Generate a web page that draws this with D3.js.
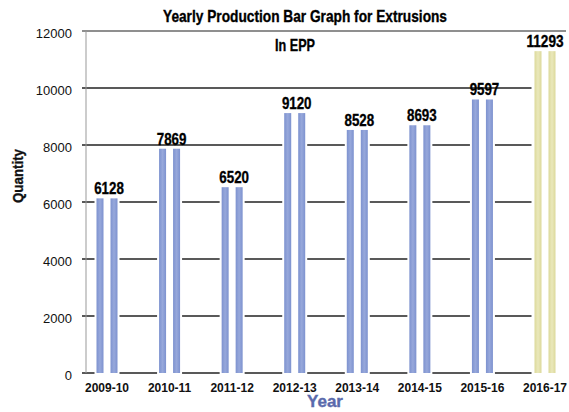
<!DOCTYPE html>
<html>
<head>
<meta charset="utf-8">
<script src="https://cdn.jsdelivr.net/npm/d3@7"></script>
<style>
  html, body { margin: 0; padding: 0; background: #fff; }
  svg { display: block; }
  .narrow { font-family: "Liberation Sans", Arial, sans-serif; font-weight: bold; stroke: currentColor; stroke-width: 0.35px; }
  .plain { font-family: "Liberation Sans", Arial, sans-serif; }
</style>
</head>
<body>
<svg id="chart" width="569" height="412"></svg>
<script>
// Yearly EPP extrusion production
const years = ["2009-10", "2010-11", "2011-12", "2012-13", "2013-14", "2014-15", "2015-16", "2016-17"];
const quantities = [6128, 7869, 6520, 9120, 8528, 8693, 9597, 11293];
const yTicks = [0, 2000, 4000, 6000, 8000, 10000, 12000];
const titleLines = ["Yearly Production Bar Graph for Extrusions", "In EPP"];

const svg = d3.select("#chart");

const x = d3.scalePoint().domain(years).range([107, 545]);
const y = d3.scaleLinear().domain([0, 12000]).range([373, 31]);

const barW = 7;      // width of each of the twin bars
const barGap = 7;    // gap between the twin bars
const axisX = 86;

// condensed bold text: squeeze glyphs to a fixed width per character
function condensed(sel, perChar) {
  sel.attr("textLength", function () { return this.textContent.length * perChar; })
     .attr("lengthAdjust", "spacingAndGlyphs");
}

// gradients for the twin bars
const defs = svg.append("defs");
function grad(id, edge, mid) {
  const g = defs.append("linearGradient").attr("id", id).attr("x1", 0).attr("x2", 1).attr("y1", 0).attr("y2", 0);
  g.append("stop").attr("offset", "0%").attr("stop-color", edge);
  g.append("stop").attr("offset", "50%").attr("stop-color", mid);
  g.append("stop").attr("offset", "100%").attr("stop-color", edge);
}
grad("blueBar", "#7d92cf", "#97a8db");
grad("yellowBar", "#dcd99a", "#eae8bb");

// horizontal grid lines (up to 10000), stopping before the last pair
const lastLeft = x(years[years.length - 1]) - barGap / 2 - barW - 3;
svg.append("g")
  .selectAll("line")
  .data(yTicks.filter(t => t < 12000))
  .join("line")
  .attr("x1", axisX - 4)
  .attr("x2", lastLeft)
  .attr("y1", d => y(d))
  .attr("y2", d => y(d))
  .attr("stroke", "#222")
  .attr("stroke-width", 1.4);

// top frame line at 12000
svg.append("line")
  .attr("x1", axisX - 4).attr("x2", 566)
  .attr("y1", y(12000)).attr("y2", y(12000))
  .attr("stroke", "#6a6a6a").attr("stroke-width", 1.4);

// vertical axis line
svg.append("line")
  .attr("x1", axisX).attr("x2", axisX)
  .attr("y1", y(12000)).attr("y2", y(0))
  .attr("stroke", "#999").attr("stroke-width", 1);

// y tick labels
svg.append("g")
  .selectAll("text")
  .data(yTicks)
  .join("text")
  .attr("class", "plain")
  .attr("x", 72)
  .attr("y", d => y(d) + 7)
  .attr("text-anchor", "end")
  .attr("font-size", 13)
  .attr("fill", "#111")
  .text(d => d);

// bar groups: white clearing behind each pair, then twin bars
const groups = svg.append("g")
  .selectAll("g")
  .data(years.map((yr, i) => ({ yr, v: quantities[i], last: i === years.length - 1 })))
  .join("g");

groups.append("rect")
  .attr("x", d => x(d.yr) - barGap / 2 - barW - 2)
  .attr("width", 2 * barW + barGap + 4)
  .attr("y", d => y(d.v))
  .attr("height", d => y(0) - y(d.v) + 2)
  .attr("fill", "#fff");

[-1, 1].forEach(side => {
  groups.append("rect")
    .attr("x", d => side < 0 ? x(d.yr) - barGap / 2 - barW : x(d.yr) + barGap / 2)
    .attr("width", barW)
    .attr("y", d => y(d.v))
    .attr("height", d => y(0) - y(d.v))
    .attr("fill", d => d.last ? "url(#yellowBar)" : "url(#blueBar)");
});

// value labels
groups.append("text")
  .attr("class", "narrow")
  .attr("x", d => x(d.yr) + (d.last ? 0 : 2))
  .attr("y", d => y(d.v) - 4)
  .attr("text-anchor", "middle")
  .attr("font-size", 16)
  .attr("fill", "#000")
  .style("color", "#000")
  .text(d => d.v)
  .call(condensed, 7.4);

// category labels
svg.append("g")
  .selectAll("text")
  .data(years)
  .join("text")
  .attr("class", "plain")
  .attr("font-weight", "bold")
  .attr("x", d => x(d))
  .attr("y", 392)
  .attr("text-anchor", "middle")
  .attr("font-size", 12)
  .attr("fill", "#111")
  .text(d => d);

// titles
svg.append("text")
  .attr("class", "narrow")
  .style("color", "#000")
  .attr("x", 305).attr("y", 22)
  .attr("text-anchor", "middle")
  .attr("font-size", 17)
  .attr("textLength", 284)
  .attr("lengthAdjust", "spacingAndGlyphs")
  .text(titleLines[0]);

svg.append("text")
  .attr("class", "narrow")
  .style("color", "#000")
  .attr("x", 295).attr("y", 51)
  .attr("text-anchor", "middle")
  .attr("font-size", 17)
  .attr("textLength", 40)
  .attr("lengthAdjust", "spacingAndGlyphs")
  .text(titleLines[1]);

// axis titles
svg.append("text")
  .attr("class", "narrow")
  .style("color", "#111")
  .attr("transform", "translate(23,176) rotate(-90)")
  .attr("text-anchor", "middle")
  .attr("font-size", 15)
  .attr("fill", "#111")
  .attr("textLength", 54)
  .attr("lengthAdjust", "spacingAndGlyphs")
  .text("Quantity");

svg.append("text")
  .attr("class", "narrow")
  .style("color", "#5a6aac")
  .attr("x", 325).attr("y", 407)
  .attr("text-anchor", "middle")
  .attr("font-size", 17)
  .attr("fill", "#5a6aac")
  .attr("textLength", 36)
  .attr("lengthAdjust", "spacingAndGlyphs")
  .text("Year");
</script>
</body>
</html>
